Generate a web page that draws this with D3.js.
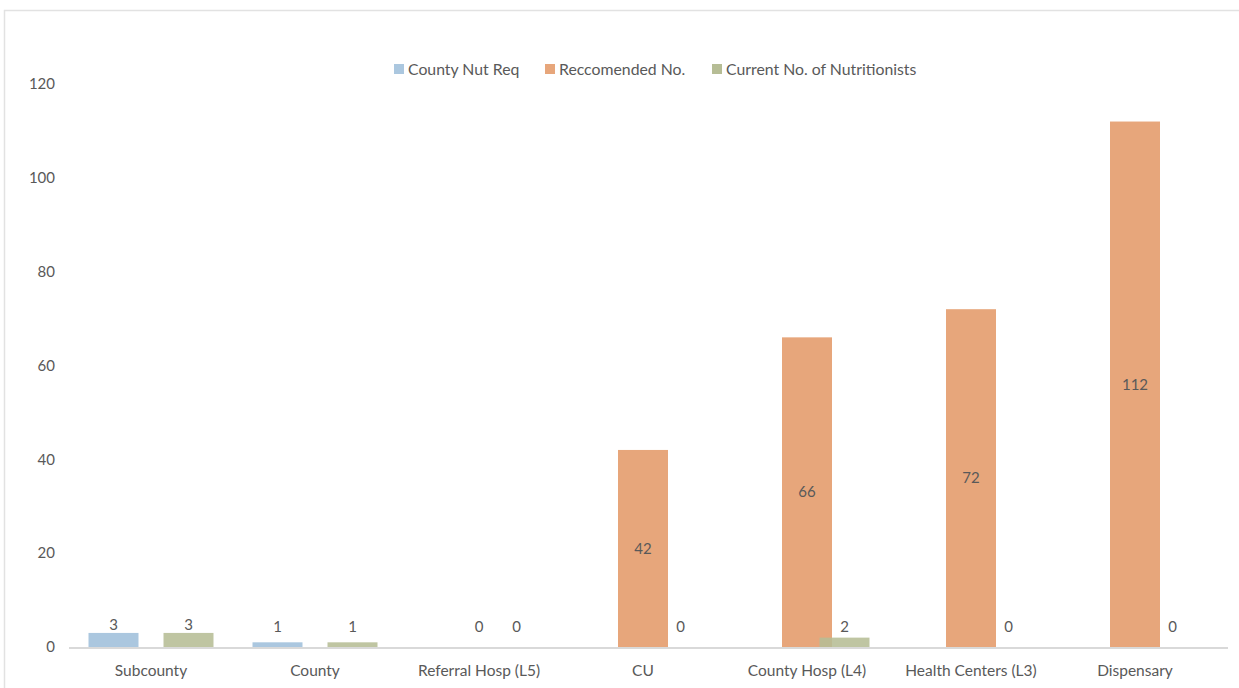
<!DOCTYPE html>
<html>
<head>
<meta charset="utf-8">
<script src="https://cdn.jsdelivr.net/npm/d3@7"></script>
<style>
  html, body { margin: 0; padding: 0; background: #fff; }
  svg { display: block; }
  text { font-family: "Lato", "DejaVu Sans", sans-serif; fill: #595959; }
</style>
</head>
<body>
<svg id="chart" width="1239" height="688"></svg>
<script>
// Facility levels along the x axis
const categories = ["Subcounty", "County", "Referral Hosp (L5)", "CU", "County Hosp (L4)", "Health Centers (L3)", "Dispensary"];
// Series values (null = no bar / no label for that level)
const countyNutReq   = [3, 1, null, null, null, null, null];
const recommendedNo  = [null, null, 0, 42, 66, 72, 112];
const currentNo      = [3, 1, 0, 0, 2, 0, 0];
const seriesNames    = ["County Nut Req", "Reccomended No.", "Current No. of Nutritionists"];
const yTicks         = [0, 20, 40, 60, 80, 100, 120];

const colors = ["#abc7df", "#e7a67b", "#b6bd95"];
const seriesData = [countyNutReq, recommendedNo, currentNo];

const svg = d3.select("#chart");

// chart frame
svg.append("rect")
  .attr("x", 4.5).attr("y", 10.5)
  .attr("width", 1250).attr("height", 700)
  .attr("fill", "none").attr("stroke", "#e2e2e2").attr("stroke-width", 1.5);

const x = d3.scaleBand().domain(categories).range([69, 1217]);
const y = d3.scaleLinear().domain([0, 120]).range([647, 84]);

const barW = 50, barGap = 37.5;
const offset = i => (i - 1) * barGap;

// y tick labels
svg.append("g").selectAll("text").data(yTicks).join("text")
  .attr("x", 55).attr("y", d => y(d))
  .attr("dy", "0.35em").attr("text-anchor", "end")
  .attr("font-size", 15)
  .text(d => d);

// bars
seriesData.forEach((vals, si) => {
  const rows = categories.map((c, i) => ({ c, v: vals[i] })).filter(d => d.v !== null);
  svg.append("g").selectAll("rect").data(rows).join("rect")
    .attr("x", d => x(d.c) + x.bandwidth() / 2 + offset(si) - barW / 2)
    .attr("y", d => y(d.v))
    .attr("width", barW)
    .attr("height", d => y(0) - y(d.v))
    .attr("fill", colors[si])
    .attr("fill-opacity", si === 2 ? 0.88 : 1);
});

// x axis line
svg.append("line")
  .attr("x1", 69).attr("x2", 1228)
  .attr("y1", y(0) + 1).attr("y2", y(0) + 1)
  .attr("stroke", "#d9d9d9").attr("stroke-width", 2);

// category labels
svg.append("g").selectAll("text").data(categories).join("text")
  .attr("x", d => x(d) + x.bandwidth() / 2)
  .attr("y", 671).attr("dy", "0.35em")
  .attr("text-anchor", "middle").attr("font-size", 15.5)
  .text(d => d);

// value labels: tall bars labelled at their middle, short bars just above
seriesData.forEach((vals, si) => {
  const rows = categories.map((c, i) => ({ c, v: vals[i] })).filter(d => d.v !== null);
  svg.append("g").selectAll("text").data(rows).join("text")
    .attr("x", d => x(d.c) + x.bandwidth() / 2 + offset(si))
    .attr("y", d => (y(0) - y(d.v) > 40) ? (y(0) + y(d.v)) / 2 : Math.min(y(d.v) - 8, 627))
    .attr("dy", "0.35em").attr("text-anchor", "middle")
    .attr("font-size", 15).attr("fill", "#404040")
    .text(d => d.v);
});

// legend
const legendItems = [
  { name: seriesNames[0], color: colors[0], x: 394 },
  { name: seriesNames[1], color: colors[1], x: 545 },
  { name: seriesNames[2], color: colors[2], x: 712 }
];
const lg = svg.append("g").selectAll("g").data(legendItems).join("g")
  .attr("transform", d => `translate(${d.x},69)`);
lg.append("rect").attr("x", 0).attr("y", -5).attr("width", 10).attr("height", 10)
  .attr("fill", d => d.color);
lg.append("text").attr("x", 14).attr("dy", "0.35em")
  .attr("font-size", 15.8).text(d => d.name);
</script>
</body>
</html>
